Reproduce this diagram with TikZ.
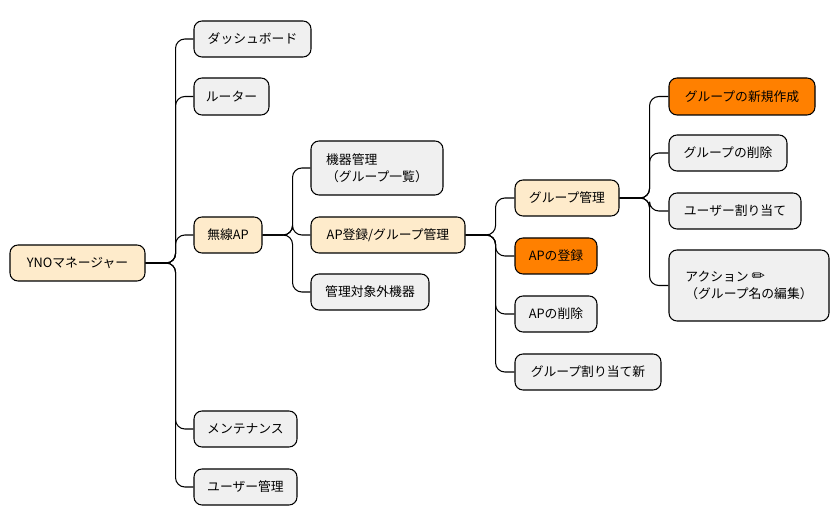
\documentclass[tikz,border=0pt]{standalone}
\usepackage{fontspec}
\setmainfont{Noto Sans CJK JP}
\newfontfamily\djv{DejaVu Sans}
\begin{document}
\begin{tikzpicture}[x=0.75pt,y=-0.75pt,
  box/.style={draw=black,line width=0.8pt,rounded corners=6pt,inner sep=0pt,font=\fontsize{9.6}{13}\selectfont,align=left},
  gbox/.style={box,fill=gray!12},
  ybox/.style={box,fill=yellow!20!orange!18!white},
  obox/.style={box,fill=orange},
  ln/.style={draw=black,line width=0.8pt,rounded corners=7pt}]
\useasboundingbox (0,0) rectangle (840,527);
\newcommand\bx[7]{\node[#1,minimum width={(#5-#3)*0.75pt},minimum height={(#6-#4)*0.75pt}] (#2) at ({(#3+#5)/2},{(#4+#6)/2}) {#7};}
\bx{ybox}{root}{10}{245}{145}{281}{YNOマネージャー}
\bx{gbox}{a1}{194}{21}{311}{57}{ダッシュボード}
\bx{gbox}{a2}{194}{78}{269}{115}{ルーター}
\bx{ybox}{a3}{194}{217}{262}{253}{無線AP}
\bx{gbox}{a4}{194}{411}{297}{447}{メンテナンス}
\bx{gbox}{a5}{194}{469}{297}{505}{ユーザー管理}
\bx{gbox}{b1}{311}{141}{443}{195}{機器管理\\（グループ一覧）}
\bx{ybox}{b2}{311}{217}{465}{253}{AP登録/グループ管理}
\bx{gbox}{b3}{311}{274}{429}{310}{管理対象外機器}
\bx{ybox}{c1}{515}{180}{619}{216}{グループ管理}
\bx{obox}{c2}{515}{238}{597}{274}{APの登録}
\bx{gbox}{c3}{515}{296}{597}{332}{APの削除}
\bx{gbox}{c4}{515}{354}{661}{390}{グループ割り当て新}
\bx{obox}{d1}{669}{78}{815}{115}{グループの新規作成}
\bx{gbox}{d2}{669}{135}{787}{171}{グループの削除}
\bx{gbox}{d3}{669}{193}{801}{229}{ユーザー割り当て}
\bx{gbox}{d4}{669}{250}{829}{321}{アクション {\djv\large ✏}\\（グループ名の編集）}
\foreach \c in {a1,a2,a3,a4,a5} \draw[ln] (root.east) -- ++(30,0) |- (\c.west);
\foreach \c in {b1,b2,b3} \draw[ln] (a3.east) -- ++(30,0) |- (\c.west);
\foreach \c in {c1,c2,c3,c4} \draw[ln] (b2.east) -- ++(30,0) |- (\c.west);
\foreach \c in {d1,d2,d3,d4} \draw[ln] (c1.east) -- ++(30,0) |- (\c.west);
\end{tikzpicture}
\end{document}
